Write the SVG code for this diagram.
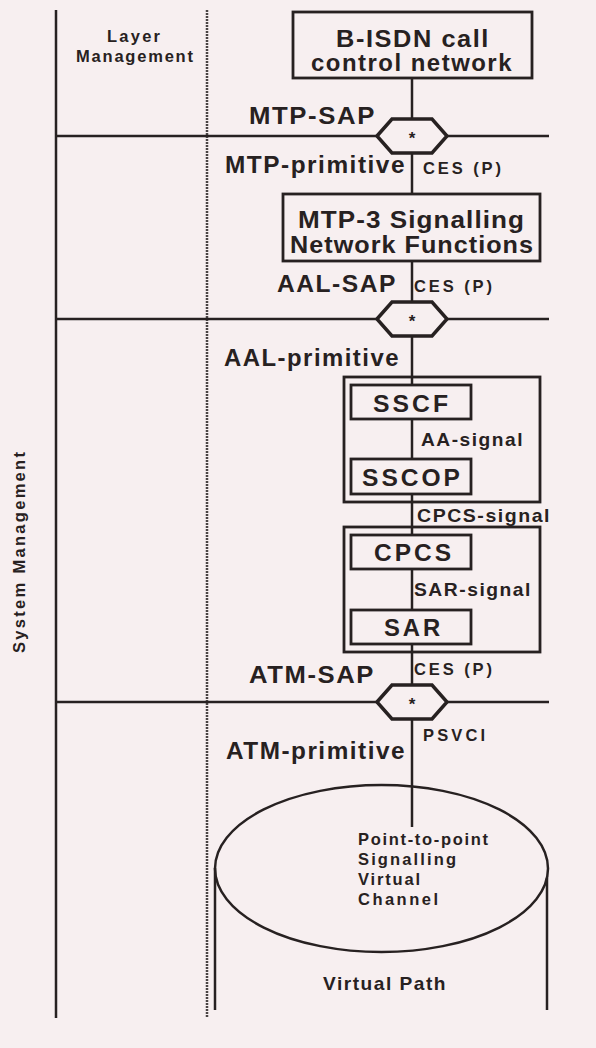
<svg xmlns="http://www.w3.org/2000/svg" width="596" height="1048" viewBox="0 0 596 1048">
<style>
.ln{stroke:#272121;stroke-width:2.5;fill:none}
.bx{stroke:#272121;stroke-width:2.8;fill:#f7eff0}
.ob{stroke:#272121;stroke-width:2.8;fill:none}
.hx{stroke:#272121;stroke-width:3.5;fill:#f7eff0;stroke-linejoin:miter}
.dash{stroke:#4a4444;stroke-width:2.5;stroke-dasharray:2 1;fill:none}
text{font-family:"Liberation Sans",Arial,Helvetica,sans-serif;font-weight:bold;fill:#272121}
.big{font-size:24px;letter-spacing:1.5px}
.box{font-size:24.5px;letter-spacing:1px}
.blk{font-size:24.5px;letter-spacing:3px}
.mid{font-size:19px;letter-spacing:1.5px}
.sm{font-size:16.5px}
.sm2{font-size:16.5px}
.ast{font-size:17px;text-anchor:middle}
</style>
<rect x="0" y="0" width="596" height="1048" fill="#f7eff0"/>

<g id="frame">
<line class="ln" x1="56" y1="10" x2="56" y2="1018"/>
<line class="dash" x1="207" y1="10" x2="207" y2="1018"/>
<text class="sm2" x="107" y="41.5" textLength="53" lengthAdjust="spacing">Layer</text>
<text class="sm2" x="76" y="61.5" textLength="117" lengthAdjust="spacing">Management</text>
<text class="sm2" transform="translate(25,653) rotate(-90)" x="0" y="0" textLength="201" lengthAdjust="spacing">System  Management</text>
</g>

<g id="connectors">
<line class="ln" x1="56" y1="136" x2="377" y2="136"/>
<line class="ln" x1="447" y1="136" x2="549" y2="136"/>
<line class="ln" x1="56" y1="319" x2="377" y2="319"/>
<line class="ln" x1="447" y1="319" x2="549" y2="319"/>
<line class="ln" x1="56" y1="702" x2="377" y2="702"/>
<line class="ln" x1="447" y1="702" x2="549" y2="702"/>
<line class="ln" x1="412" y1="78" x2="412" y2="119"/>
<line class="ln" x1="412" y1="153" x2="412" y2="194"/>
<line class="ln" x1="412" y1="261" x2="412" y2="302"/>
<line class="ln" x1="412" y1="336" x2="412" y2="385"/>
<line class="ln" x1="412" y1="419" x2="412" y2="459"/>
<line class="ln" x1="412" y1="494" x2="412" y2="535"/>
<line class="ln" x1="412" y1="569" x2="412" y2="610"/>
<line class="ln" x1="412" y1="644" x2="412" y2="685"/>
<line class="ln" x1="412" y1="719" x2="412" y2="827"/>
<text class="big" x="249" y="124" textLength="127" lengthAdjust="spacingAndGlyphs">MTP-SAP</text>
<text class="big" x="225" y="173" textLength="181" lengthAdjust="spacingAndGlyphs">MTP-primitive</text>
<text class="sm" x="423" y="174" textLength="78" lengthAdjust="spacing">CES  (P)</text>
<text class="big" x="277" y="292" textLength="120" lengthAdjust="spacingAndGlyphs">AAL-SAP</text>
<text class="sm" x="414" y="291.5" textLength="78" lengthAdjust="spacing">CES  (P)</text>
<text class="big" x="224" y="366" textLength="176" lengthAdjust="spacingAndGlyphs">AAL-primitive</text>
<text class="mid" x="421" y="445.5" textLength="103" lengthAdjust="spacingAndGlyphs">AA-signal</text>
<text class="mid" x="417" y="522" textLength="134" lengthAdjust="spacingAndGlyphs">CPCS-signal</text>
<text class="mid" x="414" y="596" textLength="118" lengthAdjust="spacingAndGlyphs">SAR-signal</text>
<text class="sm" x="414" y="675" textLength="78" lengthAdjust="spacing">CES  (P)</text>
<text class="big" x="249" y="683" textLength="126" lengthAdjust="spacingAndGlyphs">ATM-SAP</text>
<text class="sm" x="423" y="741" textLength="62" lengthAdjust="spacing">PSVCI</text>
<text class="big" x="226" y="759" textLength="180" lengthAdjust="spacingAndGlyphs">ATM-primitive</text>
</g>

<g id="bisdn">
<rect class="bx" x="293" y="12" width="239" height="66"/>
<text class="big" x="336" y="46.5" textLength="154" lengthAdjust="spacingAndGlyphs">B-ISDN  call</text>
<text class="big" x="311" y="71" textLength="202" lengthAdjust="spacingAndGlyphs">control network</text>
</g>

<g id="sap-mtp">
<polygon class="hx" points="377,136 392,119 432,119 447,136 432,153 392,153"/>
<text class="ast" x="412" y="144">*</text>
</g>

<g id="mtp3">
<rect class="bx" x="283" y="194" width="257" height="67"/>
<text class="box" x="298" y="228" textLength="227" lengthAdjust="spacingAndGlyphs">MTP-3  Signalling</text>
<text class="box" x="290" y="253" textLength="244" lengthAdjust="spacingAndGlyphs">Network Functions</text>
</g>

<g id="sap-aal">
<polygon class="hx" points="377,319 392,302 432,302 447,319 432,336 392,336"/>
<text class="ast" x="412" y="327">*</text>
</g>

<g id="sscs">
<rect class="ob" x="344" y="377" width="196" height="125"/>
<rect class="bx" x="351" y="385" width="120" height="34"/>
<text class="blk" x="373" y="412" textLength="78" lengthAdjust="spacingAndGlyphs">SSCF</text>
<rect class="bx" x="351" y="459" width="120" height="35"/>
<text class="blk" x="362" y="485.5" textLength="101" lengthAdjust="spacingAndGlyphs">SSCOP</text>
</g>

<g id="cpcs-sar">
<rect class="ob" x="344" y="527" width="196" height="125"/>
<rect class="bx" x="351" y="535" width="120" height="34"/>
<text class="blk" x="374" y="561" textLength="80" lengthAdjust="spacingAndGlyphs">CPCS</text>
<rect class="bx" x="351" y="610" width="120" height="34"/>
<text class="blk" x="384" y="636" textLength="59" lengthAdjust="spacingAndGlyphs">SAR</text>
</g>

<g id="sap-atm">
<polygon class="hx" points="377,702 392,685 432,685 447,702 432,719 392,719"/>
<text class="ast" x="412" y="710">*</text>
</g>

<g id="virtual-path">
<line class="ln" x1="215" y1="868" x2="215" y2="1010"/>
<line class="ln" x1="547" y1="878" x2="547" y2="1010"/>
<ellipse class="ln" cx="381.5" cy="868.5" rx="166.5" ry="83.5"/>
<text class="sm2" x="358" y="845" textLength="130" lengthAdjust="spacing">Point-to-point</text>
<text class="sm2" x="358" y="865" textLength="98" lengthAdjust="spacing">Signalling</text>
<text class="sm2" x="358" y="885" textLength="62" lengthAdjust="spacing">Virtual</text>
<text class="sm2" x="358" y="905" textLength="80" lengthAdjust="spacing">Channel</text>
<text class="mid" x="323" y="990" textLength="124" lengthAdjust="spacingAndGlyphs">Virtual  Path</text>
</g>
</svg>
